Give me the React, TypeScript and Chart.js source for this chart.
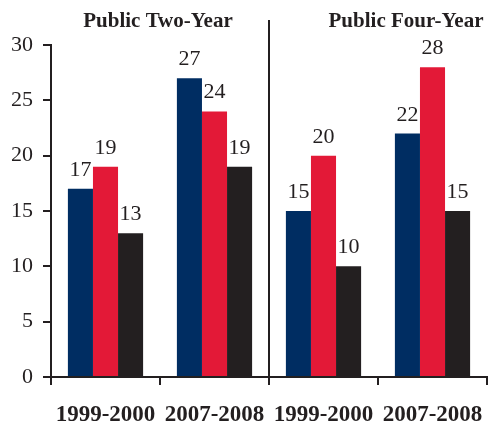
import React, { useEffect, useRef } from "react";
import { Chart, registerables } from "chart.js";

Chart.register(...registerables);

const categories = ["1999-2000", "2007-2008", "1999-2000", "2007-2008"];
const seriesNavy = [17, 27, 15, 22];
const seriesRed = [19, 24, 20, 28];
const seriesBlack = [13, 19, 10, 15];
const groupTitles = ["Public Two-Year", "Public Four-Year"];
const yTicks = [0, 5, 10, 15, 20, 25, 30];

const INK = "#231F20";
const SERIF = "'Liberation Serif', 'Times New Roman', serif";

const overlayPlugin = {
  id: "overlay",
  afterDatasetsDraw(chart: any) {
    const ctx = chart.ctx;
    ctx.save();
    ctx.font = `22px ${SERIF}`;
    ctx.fillStyle = INK;
    ctx.textAlign = "center";
    ctx.textBaseline = "alphabetic";
    chart.data.datasets.forEach((ds: any, i: number) => {
      const meta = chart.getDatasetMeta(i);
      meta.data.forEach((el: any, j: number) => {
        ctx.fillText(String(ds.data[j]), el.x, el.y - 13);
      });
    });
    ctx.restore();
  },
  afterDraw(chart: any) {
    const ctx = chart.ctx;
    const xs = chart.scales.x;
    const area = chart.chartArea;
    ctx.save();
    const divX = (xs.getPixelForValue(1) + xs.getPixelForValue(2)) / 2;
    ctx.strokeStyle = INK;
    ctx.lineWidth = 2;
    ctx.beginPath();
    ctx.moveTo(divX, 20);
    ctx.lineTo(divX, area.bottom);
    ctx.stroke();

    ctx.font = `bold 21px ${SERIF}`;
    ctx.fillStyle = INK;
    ctx.textAlign = "center";
    ctx.textBaseline = "alphabetic";
    const c1 = (xs.getPixelForValue(0) + xs.getPixelForValue(1)) / 2 - 2;
    const c2 = (xs.getPixelForValue(2) + xs.getPixelForValue(3)) / 2 + 28;
    ctx.fillText(groupTitles[0], c1, 27);
    ctx.fillText(groupTitles[1], c2, 27);
    ctx.restore();
  },
};

export default function App() {
  const ref = useRef<HTMLCanvasElement | null>(null);
  useEffect(() => {
    document.body.style.margin = "0";
    if (!ref.current) return;
    const common = { categoryPercentage: 0.69, barPercentage: 1.0, borderWidth: 0 };
    const chart = new Chart(ref.current, {
      type: "bar",
      data: {
        labels: categories,
        datasets: [
          { label: "a", data: seriesNavy, backgroundColor: "#002D62", ...common },
          { label: "b", data: seriesRed, backgroundColor: "#E31937", ...common },
          { label: "c", data: seriesBlack, backgroundColor: INK, ...common },
        ],
      },
      options: {
        responsive: false,
        animation: false,
        devicePixelRatio: 1,
        layout: { padding: { top: 45, right: 2, bottom: 0, left: 0 } },
        plugins: { legend: { display: false }, tooltip: { enabled: false } },
        scales: {
          x: {
            offset: true,
            grid: {
              offset: true,
              drawOnChartArea: false,
              drawTicks: true,
              tickLength: 8,
              color: INK,
              lineWidth: 2,
            },
            border: { display: true, color: INK, width: 2 },
            ticks: {
              color: INK,
              padding: 16,
              font: { family: SERIF, size: 23, weight: "bold" },
              maxRotation: 0,
              autoSkip: false,
            },
            afterFit(scale: any) {
              scale.height = 47;
              scale.paddingLeft = 0;
              scale.paddingRight = 0;
            },
          },
          y: {
            min: 0,
            max: 30,
            afterBuildTicks(scale: any) {
              scale.ticks = yTicks.map((v) => ({ value: v }));
            },
            grid: {
              drawOnChartArea: false,
              drawTicks: true,
              tickLength: 8,
              color: INK,
              lineWidth: 2,
            },
            border: { display: true, color: INK, width: 2 },
            ticks: {
              color: INK,
              padding: 10,
              font: { family: SERIF, size: 22 },
            },
            afterFit(scale: any) {
              scale.width = 51;
              scale.paddingTop = 0;
              scale.paddingBottom = 0;
            },
          },
        },
      },
      plugins: [overlayPlugin],
    });
    return () => chart.destroy();
  }, []);
  return (
    <div style={{ width: 489, height: 424 }}>
      <canvas ref={ref} width={489} height={424} />
    </div>
  );
}
